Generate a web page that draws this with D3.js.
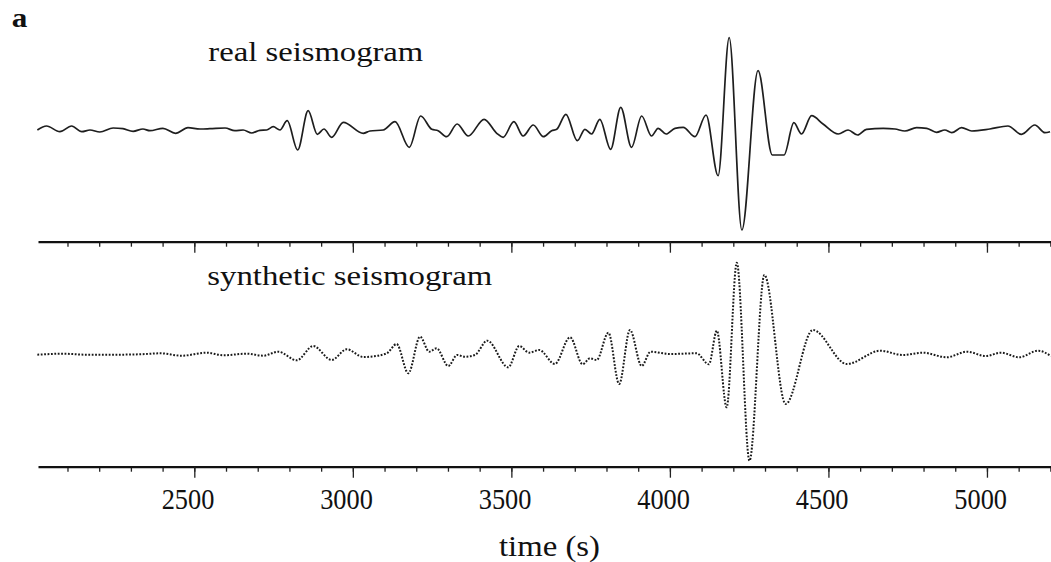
<!DOCTYPE html>
<html>
<head>
<meta charset="utf-8">
<script src="https://cdn.jsdelivr.net/npm/d3@7"></script>
<style>
  body { margin: 0; background: #fff; }
  svg { display: block; }
  text { font-family: "Liberation Serif", "DejaVu Serif", serif; fill: #111; }
</style>
</head>
<body>
<svg id="chart"></svg>
<script>
// time (s) and relative amplitude, one value per wiggle top/bottom
const realTime = [2005, 2034, 2076, 2113, 2145, 2171, 2202, 2244, 2275, 2307,
  2338, 2360, 2401, 2441, 2480, 2518, 2549, 2597, 2628, 2654,
  2681, 2707, 2728, 2749, 2770, 2793, 2826, 2859, 2888, 2909,
  2933, 2970, 3033, 3054, 3096, 3133, 3178, 3214, 3249, 3269,
  3296, 3329, 3364, 3414, 3454, 3474, 3508, 3537, 3569, 3601,
  3627, 3643, 3672, 3708, 3732, 3753, 3779, 3813, 3845, 3879,
  3911, 3942, 3963, 3988, 4016, 4042, 4079, 4114, 4152, 4187,
  4227, 4278, 4323, 4360, 4391, 4415, 4447, 4483, 4531, 4562,
  4592, 4620, 4673, 4710, 4741, 4778, 4810, 4841, 4867, 4889,
  4920, 4952, 5009, 5066, 5109, 5151, 5183, 5199];
const realAmp = [0, .04, -.017, .04, -.017, 0, -.02, .02, .013, -.013,
  .01, -.007, .017, -.033, .023, .01, .013, .02, -.007, 0,
  -.03, -.003, 0, .033, 0, .093, -.2, .193, -.043, .01,
  -.073, .077, -.033, -.01, 0, .083, -.173, .14, .007, -.007,
  -.067, .06, -.06, .107, -.033, -.073, .083, -.06, .05, -.067,
  -.007, .007, .157, -.107, .007, -.04, .107, -.193, .227, -.173,
  .14, -.06, .017, -.04, .017, .027, -.067, .15, -.457, .923,
  -1.0, .593, -.25, -.25, .073, -.04, .143, .06, -.04, 0,
  -.05, .007, .017, .01, -.01, .023, .017, -.023, 0, -.027,
  .023, -.01, .01, .04, -.043, .05, -.027, -.017];

const synthTime = [2005, 2087, 2161, 2244, 2329, 2392, 2460, 2539, 2591, 2665,
  2718, 2765, 2823, 2875, 2933, 2981, 3033, 3054, 3107, 3138,
  3175, 3212, 3241, 3264, 3301, 3329, 3354, 3385, 3424, 3490,
  3525, 3556, 3588, 3637, 3685, 3725, 3748, 3769, 3806, 3840,
  3874, 3911, 3939, 4000, 4084, 4123, 4148, 4179, 4211, 4251,
  4298, 4365, 4451, 4558, 4664, 4734, 4798, 4873, 4937, 4996,
  5044, 5102, 5161, 5202];
const synthAmp = [-.002, .008, -.002, -.002, .002, .012, -.012, .018, -.008, .008,
  -.012, .028, -.058, .085, -.055, .052, -.025, -.022, .012, .105,
  -.188, .178, .028, .062, -.115, -.005, -.022, -.005, .138, -.128,
  .085, .018, .045, -.095, .172, -.098, -.038, -.055, .218, -.295,
  .245, -.115, .028, .005, .012, -.098, .238, -.528, .918, -1.062,
  .795, -.495, .245, -.095, .038, -.005, .018, -.028, .028, -.015,
  .018, -.028, .038, -.015];

const majorTicks = [2500, 3000, 3500, 4000, 4500, 5000];
const minorTicks = d3.range(2100, 5201, 100);

const svg = d3.select("#chart").attr("width", 1051).attr("height", 562);

// shared time axis
const xScale = d3.scaleLinear().domain([2007, 5202]).range([38, 1051]);

class Seismogram {
  constructor(_config, _time, _amp) {
    this.config = {
      top: _config.top,            // y of amplitude +1
      bottom: _config.bottom,      // y of amplitude -1
      axisY: _config.axisY,
      title: _config.title,
      titleX: _config.titleX,
      titleY: _config.titleY,
      titleWidth: _config.titleWidth,
      dashed: _config.dashed || false,
      showLabels: _config.showLabels || false
    };
    this.data = _time.map((t, i) => ({ t: t, a: _amp[i] }));
    this.initVis();
  }

  initVis() {
    let vis = this;
    vis.yScale = d3.scaleLinear().domain([-1, 1]).range([vis.config.bottom, vis.config.top]);

    vis.line = d3.line()
      .x(d => xScale(d.t))
      .y(d => vis.yScale(d.a))
      .curve(d3.curveMonotoneX);

    svg.append("path")
      .datum(vis.data)
      .attr("d", vis.line)
      .attr("fill", "none")
      .attr("stroke", vis.config.dashed ? "#1a1a1a" : "#1e1e1e")
      .attr("stroke-width", vis.config.dashed ? 2 : 1.7)
      .attr("stroke-dasharray", vis.config.dashed ? "1.8 1.6" : null)
      .attr("stroke-linejoin", "round");

    svg.append("text")
      .attr("x", vis.config.titleX)
      .attr("y", vis.config.titleY)
      .attr("font-size", 28)
      .attr("textLength", vis.config.titleWidth)
      .attr("lengthAdjust", "spacingAndGlyphs")
      .text(vis.config.title);

    // minor ticks
    svg.append("g")
      .attr("transform", `translate(0,${vis.config.axisY})`)
      .call(d3.axisBottom(xScale).tickValues(minorTicks).tickSize(5).tickSizeOuter(0).tickFormat(""))
      .call(g => g.select(".domain").remove())
      .call(g => g.selectAll(".tick line").attr("stroke", "#222").attr("stroke-width", 1.3));

    // major ticks + axis line
    vis.xAxisG = svg.append("g")
      .attr("transform", `translate(0,${vis.config.axisY})`)
      .call(d3.axisBottom(xScale).tickValues(majorTicks).tickSize(11).tickSizeOuter(0)
        .tickFormat(d3.format("d")))
      .call(g => g.select(".domain").attr("stroke", "#111").attr("stroke-width", 2.3))
      .call(g => g.selectAll(".tick line").attr("stroke", "#222").attr("stroke-width", 1.3));

    if (vis.config.showLabels) {
      vis.xAxisG.selectAll(".tick text")
        .attr("x", -6.8)
        .attr("y", 42.3)
        .attr("dy", 0)
        .attr("fill", "#111")
        .attr("font-family", '"Liberation Serif", serif')
        .attr("font-size", 30)
        .attr("textLength", 52.7)
        .attr("lengthAdjust", "spacingAndGlyphs");
    } else {
      vis.xAxisG.selectAll(".tick text").remove();
    }
  }
}

new Seismogram({ top: 30, bottom: 230, axisY: 241.7, title: "real seismogram",
  titleX: 208.3, titleY: 61, titleWidth: 215 }, realTime, realAmp);

new Seismogram({ top: 254.5, bottom: 454.5, axisY: 466.7, title: "synthetic seismogram",
  titleX: 207.3, titleY: 285, titleWidth: 285, dashed: true, showLabels: true }, synthTime, synthAmp);

svg.append("text")
  .attr("x", 11.7)
  .attr("y", 27)
  .attr("font-size", 28)
  .attr("font-weight", "bold")
  .attr("textLength", 15.6)
  .attr("lengthAdjust", "spacingAndGlyphs")
  .text("a");

svg.append("text")
  .attr("x", 549.5)
  .attr("y", 556)
  .attr("text-anchor", "middle")
  .attr("font-size", 30)
  .attr("textLength", 101)
  .attr("lengthAdjust", "spacingAndGlyphs")
  .text("time (s)");
</script>
</body>
</html>
